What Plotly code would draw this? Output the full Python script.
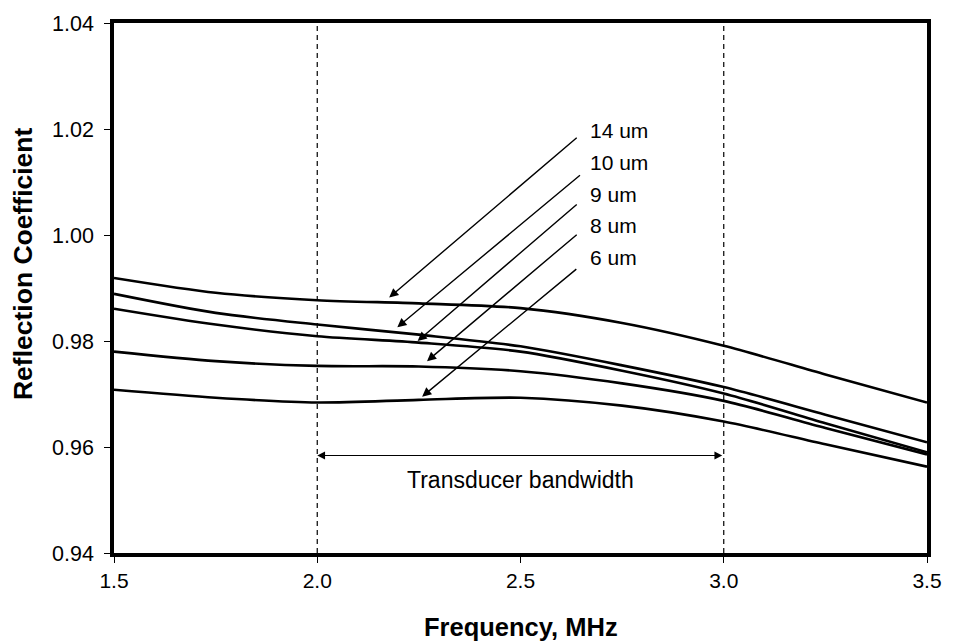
import plotly.graph_objects as go

freq = [1.5, 1.75, 2.0, 2.25, 2.5, 2.75, 3.0, 3.25, 3.5]
r14 = [0.9919, 0.9891, 0.9877, 0.9871, 0.9862, 0.9834, 0.9791, 0.9737, 0.9684]
r10 = [0.9889, 0.9853, 0.9831, 0.9812, 0.9790, 0.9754, 0.9713, 0.9661, 0.9609]
r9 = [0.9861, 0.9831, 0.9809, 0.9797, 0.9780, 0.9744, 0.9701, 0.9645, 0.9590]
r8 = [0.9780, 0.9762, 0.9753, 0.9752, 0.9743, 0.9720, 0.9687, 0.9636, 0.9586]
r6 = [0.9708, 0.9693, 0.9684, 0.9689, 0.9693, 0.9678, 0.9648, 0.9605, 0.9563]

labels = ["14 um", "10 um", "9 um", "8 um", "6 um"]
series = [r14, r10, r9, r8, r6]
label_y = [1.0198, 1.0137, 1.0077, 1.0018, 0.9957]
arrow_tail = [(2.642, 1.0186), (2.650, 1.0115), (2.642, 1.0060), (2.642, 1.0003), (2.641, 0.9938)]
arrow_head = [(2.177, 0.9882), (2.197, 0.9826), (2.247, 0.9800), (2.270, 0.9762), (2.258, 0.9695)]
label_x = 2.665

band = (2.0, 3.0)
band_y = 0.9584
band_text_y = 0.9537

FONT = "Liberation Sans, Arial, sans-serif"

fig = go.Figure()
for name, ys in zip(labels, series):
    fig.add_trace(go.Scatter(x=freq, y=ys, mode="lines", name=name,
                             line=dict(color="black", width=2.6, shape="spline", smoothing=0.8),
                             showlegend=False, hoverinfo="skip"))

annotations = []
for name, ly, (tx, ty), (hx, hy) in zip(labels, label_y, arrow_tail, arrow_head):
    annotations.append(dict(x=label_x, y=ly, xref="x", yref="y", text=name, showarrow=False,
                            xanchor="left", yanchor="middle",
                            font=dict(family=FONT, size=21, color="black")))
    annotations.append(dict(x=hx, y=hy, ax=tx, ay=ty, xref="x", yref="y", axref="x", ayref="y",
                            text="", showarrow=True, arrowhead=2, arrowsize=1.3, arrowwidth=1.4,
                            arrowcolor="black"))

annotations.append(dict(x=band[0], y=band_y, ax=band[1], ay=band_y, xref="x", yref="y",
                        axref="x", ayref="y", text="", showarrow=True, arrowhead=2,
                        startarrowhead=2, arrowside="end+start", arrowsize=1.3,
                        startarrowsize=1.3, arrowwidth=1.2, arrowcolor="black"))
annotations.append(dict(x=(band[0] + band[1]) / 2, y=band_text_y, xref="x", yref="y",
                        text="Transducer bandwidth", showarrow=False,
                        font=dict(family=FONT, size=23, color="black")))

# axis titles placed as annotations (paper coordinates)
annotations.append(dict(x=-0.112, y=0.547, xref="paper", yref="paper",
                        text="<b>Reflection Coefficient</b>", textangle=-90, showarrow=False,
                        xanchor="center", yanchor="middle",
                        font=dict(family=FONT, size=26.5, color="black")))
annotations.append(dict(x=0.501, y=-0.139, xref="paper", yref="paper",
                        text="<b>Frequency, MHz</b>", showarrow=False,
                        xanchor="center", yanchor="middle",
                        font=dict(family=FONT, size=25.5, color="black")))

shapes = []
for bx in band:
    shapes.append(dict(type="line", xref="x", yref="y", x0=bx, x1=bx, y0=0.94, y1=1.04,
                       line=dict(color="black", width=1.2, dash="5px,4px")))

fig.update_layout(
    width=954, height=644,
    margin=dict(l=114, r=18, t=21, b=91),
    paper_bgcolor="white", plot_bgcolor="white",
    font=dict(family=FONT, size=21, color="black"),
    annotations=annotations, shapes=shapes,
)
fig.update_xaxes(range=[1.5, 3.5], tickvals=[1.5, 2.0, 2.5, 3.0, 3.5],
                 ticktext=["1.5", "2.0", "2.5", "3.0", "3.5"],
                 tickfont=dict(size=21),
                 showgrid=False, zeroline=False, showline=True, mirror=True,
                 linecolor="black", linewidth=3.5, ticks="outside", ticklen=6,
                 tickwidth=1, tickcolor="black")
fig.update_yaxes(range=[0.94, 1.04], tickvals=[0.94, 0.96, 0.98, 1.00, 1.02, 1.04],
                 ticktext=["0.94", "0.96", "0.98", "1.00", "1.02", "1.04"],
                 tickfont=dict(size=21.5), ticklabelstandoff=6,
                 showgrid=False, zeroline=False, showline=True, mirror=True,
                 linecolor="black", linewidth=3.5, ticks="outside", ticklen=6,
                 tickwidth=1, tickcolor="black")

fig.write_html("out.html")
